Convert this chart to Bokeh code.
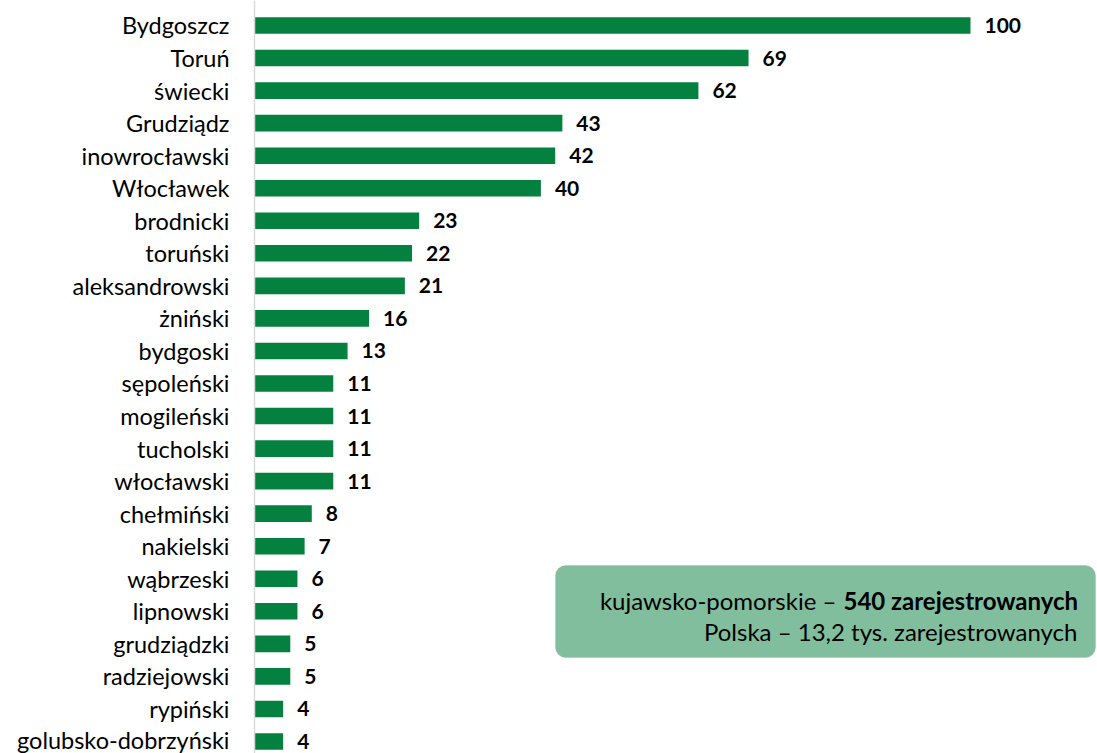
from bokeh.plotting import figure
from bokeh.models import Range1d, FixedTicker, BoxAnnotation, ColumnDataSource
from bokeh.core.properties import value
from bokeh.embed import file_html
from bokeh.resources import INLINE

categories = ["Bydgoszcz", "Toruń", "świecki", "Grudziądz", "inowrocławski", "Włocławek",
              "brodnicki", "toruński", "aleksandrowski", "żniński", "bydgoski", "sępoleński",
              "mogileński", "tucholski", "włocławski", "chełmiński", "nakielski", "wąbrzeski",
              "lipnowski", "grudziądzki", "radziejowski", "rypiński", "golubsko-dobrzyński"]
values = [100, 69, 62, 43, 42, 40, 23, 22, 21, 16, 13, 11, 11, 11, 11, 8, 7, 6, 6, 5, 5, 4, 4]

box_line1_normal = "kujawsko-pomorskie –"
box_line1_bold = "540 zarejestrowanych"
box_line2 = "Polska – 13,2 tys. zarejestrowanych"

FONT = "Lato"
BAR = "#04803F"

n = len(categories)
ypos = [n - 1 - i for i in range(n)]
src = ColumnDataSource(dict(y=ypos, v=values, lab=[str(v) for v in values]))

p = figure(width=1097, height=753, output_backend="svg", toolbar_location=None,
           x_range=Range1d(0, 117.74), y_range=Range1d(-0.369, 22.768),
           min_border_left=254, min_border_right=0, min_border_top=0, min_border_bottom=0)
p.outline_line_color = None
p.xgrid.visible = False
p.ygrid.visible = False
p.xaxis.visible = False

p.yaxis.ticker = FixedTicker(ticks=ypos)
p.yaxis.major_label_overrides = {y: c for y, c in zip(ypos, categories)}
p.yaxis.major_tick_line_color = None
p.yaxis.minor_tick_line_color = None
p.yaxis.axis_line_color = "#d9d9d9"
p.yaxis.axis_line_width = 1.5
p.yaxis.major_label_text_font = FONT
p.yaxis.major_label_text_font_size = "23.5px"
p.yaxis.major_label_text_color = "black"
p.yaxis.major_label_standoff = 19

box = BoxAnnotation(left=42.04, right=117.46, bottom=2.58, top=5.407, fill_color="#80BE9E",
                    fill_alpha=1.0, line_color="#a8a8a8", line_width=1, border_radius=10,
                    level="underlay")
p.add_layout(box)

p.hbar(y="y", left=0, right="v", height=0.51, source=src, fill_color=BAR, line_color=None)
p.text(x="v", y="y", text="lab", source=src, x_offset=14, text_baseline="middle",
       text_font=value(FONT), text_font_style="bold", text_font_size="21px", text_color="black")

p.text(x=[81.28], y=[4.332], text=[box_line1_normal], text_align="right", text_baseline="middle",
       text_font=value(FONT), text_font_size="24px", text_color="black")
p.text(x=[82.26], y=[4.332], text=[box_line1_bold], text_align="left", text_baseline="middle",
       text_font=value(FONT), text_font_style="bold", text_font_size="24px", text_color="black")
p.text(x=[114.94], y=[3.38], text=[box_line2], text_align="right", text_baseline="middle",
       text_font=value(FONT), text_font_size="24px", text_color="black")

open("out.html", "w").write(file_html(p, INLINE))
